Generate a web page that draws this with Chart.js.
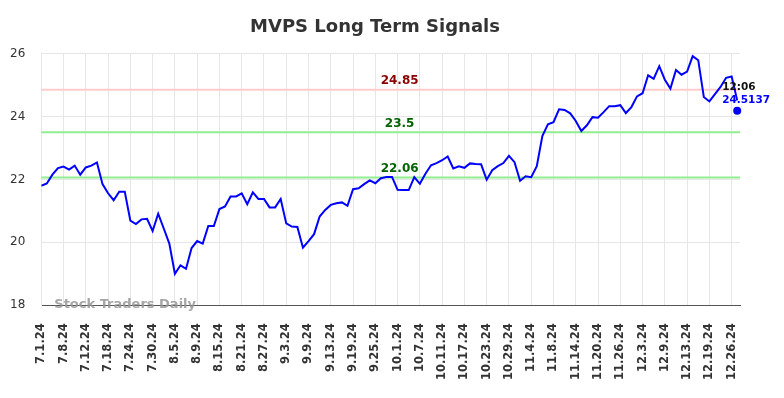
<!DOCTYPE html>
<html>
<head>
<meta charset="utf-8">
<script src="https://cdn.jsdelivr.net/npm/chart.js@4.4.1/dist/chart.umd.min.js"></script>
<style>
  html, body { margin: 0; padding: 0; background: #fff; }
  #wrap { width: 784px; height: 398px; }
</style>
</head>
<body>
<div id="wrap"><canvas id="chart" width="784" height="398"></canvas></div>
<script>
// Cours de cloture (un point par seance), 7/1/24 -> 12/27/24
const prices = [
  21.80, 21.87, 22.15, 22.36, 22.41, 22.31, 22.44, 22.15, 22.38, 22.44,
  22.54, 21.85, 21.56, 21.34, 21.61, 21.61, 20.69, 20.58, 20.73, 20.75,
  20.36, 20.91, 20.44, 19.96, 19.00, 19.27, 19.16, 19.82, 20.04, 19.96,
  20.52, 20.52, 21.06, 21.14, 21.46, 21.46, 21.56, 21.21, 21.59, 21.38,
  21.38, 21.11, 21.11, 21.38, 20.60, 20.50, 20.49, 19.83, 20.04, 20.26,
  20.82, 21.03, 21.19, 21.24, 21.27, 21.16, 21.69, 21.72, 21.85, 21.97,
  21.88, 22.04, 22.08, 22.08, 21.67, 21.66, 21.66, 22.07, 21.86, 22.18,
  22.45, 22.52, 22.61, 22.73, 22.35, 22.42, 22.37, 22.51, 22.49, 22.48,
  21.99, 22.29, 22.42, 22.52, 22.75, 22.55, 21.96, 22.10, 22.07, 22.42,
  23.38, 23.75, 23.82, 24.23, 24.21, 24.10, 23.86, 23.54, 23.72, 23.98,
  23.96, 24.14, 24.33, 24.33, 24.36, 24.11, 24.30, 24.64, 24.74, 25.31,
  25.20, 25.60, 25.17, 24.89, 25.48, 25.33, 25.43, 25.92, 25.79, 24.62,
  24.48, 24.71, 24.94, 25.23, 25.27, 24.5137
];

// une etiquette toutes les 4 seances
const tickLabels = [
  '7.1.24', '7.8.24', '7.12.24', '7.18.24', '7.24.24', '7.30.24',
  '8.5.24', '8.9.24', '8.15.24', '8.21.24', '8.27.24',
  '9.3.24', '9.9.24', '9.13.24', '9.19.24', '9.25.24',
  '10.1.24', '10.7.24', '10.11.24', '10.17.24', '10.23.24', '10.29.24',
  '11.4.24', '11.8.24', '11.14.24', '11.20.24', '11.26.24',
  '12.3.24', '12.9.24', '12.13.24', '12.19.24', '12.26.24'
];
const tickStep = 4;

// niveaux de signaux
const signalLevels = [24.85, 23.5, 22.06];
const signalLabels = ['24.85', '23.5', '22.06'];
const signalLineColors = ['#ffcccc', '#90ee90', '#90ee90'];
const signalTextColors = ['#8b0000', '#006400', '#006400'];

const lastTime = '12:06';
const lastValue = '24.5137';
const watermark = 'Stock Traders Daily';

const FONT = "'DejaVu Sans', sans-serif";

// Lignes horizontales + libelles
const signalPlugin = {
    id: 'signals',
    beforeDatasetsDraw(chart) {
        const { ctx, chartArea, scales } = chart;
        const cx = (chartArea.left + chartArea.right) / 2 + 9;
        ctx.save();
        signalLevels.forEach((lvl, i) => {
            const y = scales.y.getPixelForValue(lvl);
            ctx.strokeStyle = signalLineColors[i];
            ctx.lineWidth = 2;
            ctx.beginPath();
            ctx.moveTo(chartArea.left, y);
            ctx.lineTo(chartArea.right, y);
            ctx.stroke();
            ctx.fillStyle = signalTextColors[i];
            ctx.font = 'bold 12px ' + FONT;
            ctx.textAlign = 'center';
            ctx.textBaseline = 'middle';
            ctx.fillText(signalLabels[i], cx, y - 8.5);
        });
        ctx.restore();
    },
    afterDraw(chart) {
        const { ctx, chartArea, scales } = chart;
        ctx.save();
        // filigrane
        ctx.fillStyle = 'rgba(150,150,150,0.85)';
        ctx.font = 'bold 13px ' + FONT;
        ctx.textAlign = 'left';
        ctx.textBaseline = 'middle';
        ctx.fillText(watermark, chartArea.left + 13, chartArea.bottom - 1);

        // dernier point (pastille un peu sous la valeur)
        const last = prices.length - 1;
        const px = scales.x.getPixelForValue(last);
        const py = scales.y.getPixelForValue(prices[last]);
        ctx.fillStyle = '#0000ff';
        ctx.beginPath();
        ctx.arc(px, py + 10.5, 4, 0, Math.PI * 2);
        ctx.fill();
        ctx.font = 'bold 10.5px ' + FONT;
        ctx.fillStyle = '#111';
        ctx.fillText(lastTime, px - 15, py - 13.5);
        ctx.fillStyle = '#0000ff';
        ctx.fillText(lastValue, px - 15, py);
        ctx.restore();
    }
};

const chart = new Chart(document.getElementById('chart'), {
    type: 'line',
    data: {
        datasets: [{
            data: prices.map((v, i) => ({ x: i, y: v })),
            borderColor: '#0000ff',
            borderWidth: 2,
            pointRadius: 0,
            fill: false,
            tension: 0
        }]
    },
    options: {
        responsive: false,
        animation: false,
        layout: { padding: { left: 10, right: 44, top: 0, bottom: 0 } },
        plugins: {
            legend: { display: false },
            tooltip: { enabled: false },
            title: {
                display: true,
                text: 'MVPS Long Term Signals',
                color: '#333',
                font: { family: FONT, size: 18, weight: 'bold' },
                padding: { top: 17, bottom: 15 }
            }
        },
        scales: {
            x: {
                type: 'linear',
                min: 0,
                max: prices.length - 0.5,
                afterBuildTicks: scale => {
                    scale.ticks = tickLabels.map((_, i) => ({ value: i * tickStep }));
                },
                ticks: {
                    autoSkip: false,
                    maxRotation: 90,
                    minRotation: 90,
                    padding: 18,
                    color: '#333',
                    font: { family: FONT, size: 11.5, weight: 'bold' },
                    callback: v => tickLabels[Math.round(v / tickStep)]
                },
                grid: { color: '#e6e6e6', drawTicks: false },
                border: { color: '#555', width: 1 }
            },
            y: {
                min: 18,
                max: 26,
                afterFit: scale => {
                    // chart.js compte le padding deux fois
                    scale.width -= scale.options.ticks.padding;
                },
                ticks: {
                    stepSize: 2,
                    padding: 16,
                    color: '#333',
                    font: { family: FONT, size: 12 }
                },
                grid: { color: '#e6e6e6', drawTicks: false },
                border: { color: '#e6e6e6' }
            }
        }
    },
    plugins: [signalPlugin]
});
</script>
</body>
</html>
